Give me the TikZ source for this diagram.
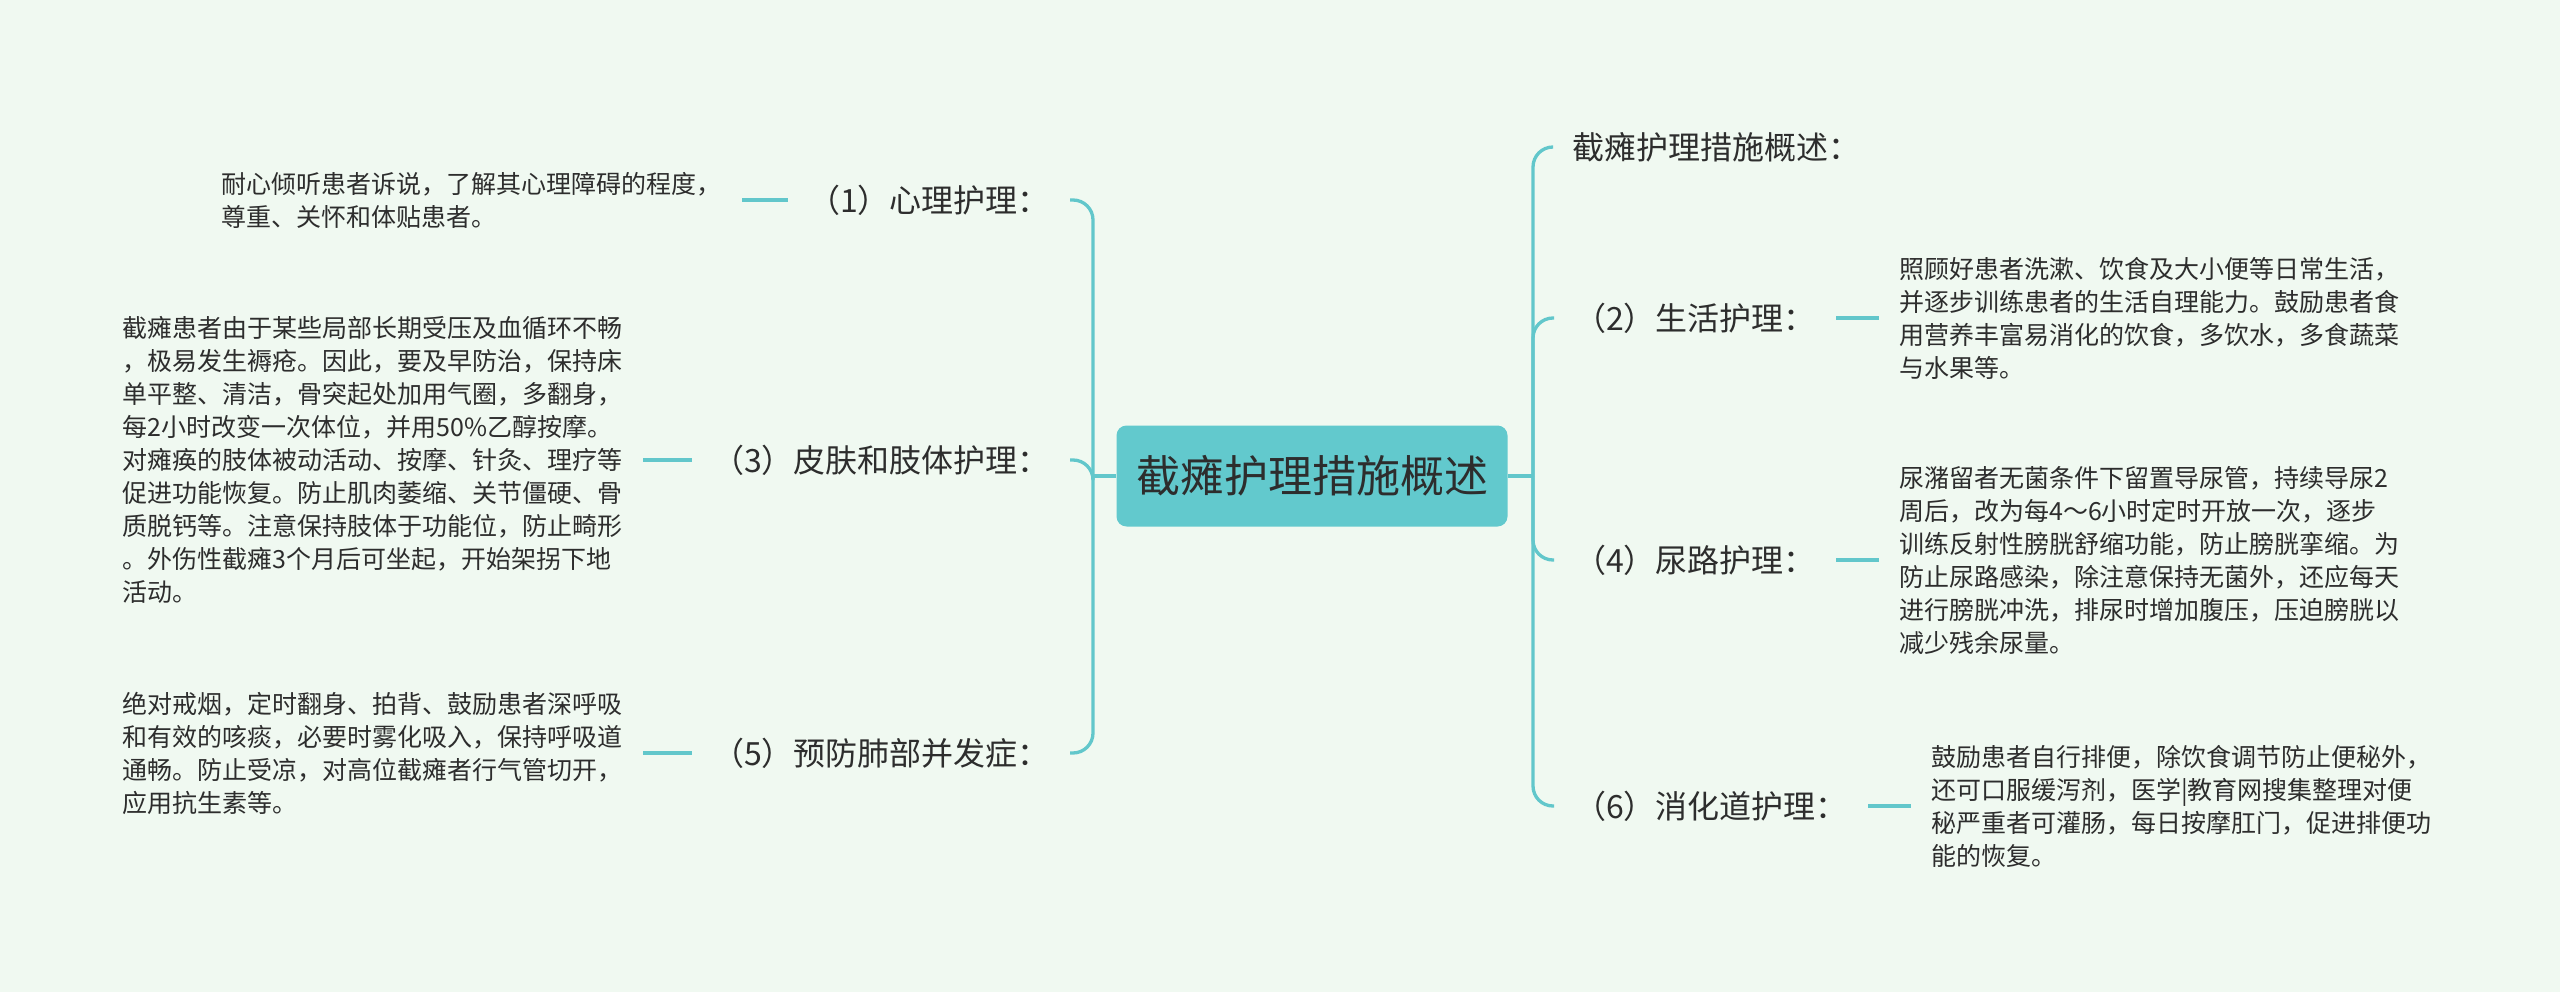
\documentclass[tikz,border=0pt]{standalone}
\usepackage{fontspec}
\setmainfont{Noto Sans CJK SC}
\usepackage{tikz}
\definecolor{mint}{RGB}{240,249,241}
\definecolor{linecol}{RGB}{98,199,203}
\definecolor{rootcol}{RGB}{98,201,205}
\definecolor{ink}{RGB}{45,45,45}

\begin{document}
\begin{tikzpicture}[x=1pt,y=-1pt,
  link/.style={draw=linecol,line width=3.3pt,rounded corners=20pt},
  root/.style={fill=rootcol,rounded corners=10pt,minimum width=391pt,minimum height=101pt,
    font=\fontsize{44}{52}\selectfont,text=ink},
  branch/.style={inner xsep=20pt,font=\fontsize{32}{40}\selectfont,text=ink},
  detail/.style={inner xsep=20pt,align=left,font=\fontsize{25}{33}\selectfont,text=ink}]
  \fill[mint] (0,0) rectangle (2560,992);

  \node[root] (root) at (1312,476) {截瘫护理措施概述};
  \coordinate (rs) at (1533,476);
  \coordinate (ls) at (1093,476);

  % right side
  \node[branch,anchor=west] (t0) at (1552,147) {截瘫护理措施概述：};
  \node[branch,anchor=west] (c2) at (1554,318) {（2）生活护理：};
  \node[branch,anchor=west] (c4) at (1554,560) {（4）尿路护理：};
  \node[branch,anchor=west] (c6) at (1554,806) {（6）消化道护理：};
  \node[detail,anchor=west] (d2) at (1879,318) {照顾好患者洗漱、饮食及大小便等日常生活，\\
    并逐步训练患者的生活自理能力。鼓励患者食\\
    用营养丰富易消化的饮食，多饮水，多食蔬菜\\
    与水果等。};
  \node[detail,anchor=west] (d4) at (1879,560) {尿潴留者无菌条件下留置导尿管，持续导尿2\\
    周后，改为每4～6小时定时开放一次，逐步\\
    训练反射性膀胱舒缩功能，防止膀胱挛缩。为\\
    防止尿路感染，除注意保持无菌外，还应每天\\
    进行膀胱冲洗，排尿时增加腹压，压迫膀胱以\\
    减少残余尿量。};
  \node[detail,anchor=west] (d6) at (1911,806) {鼓励患者自行排便，除饮食调节防止便秘外，\\
    还可口服缓泻剂，医学|教育网搜集整理对便\\
    秘严重者可灌肠，每日按摩肛门，促进排便功\\
    能的恢复。};

  % left side
  \node[branch,anchor=east] (c1) at (1070,200) {（1）心理护理：};
  \node[branch,anchor=east] (c3) at (1070,460) {（3）皮肤和肢体护理：};
  \node[branch,anchor=east] (c5) at (1070,753) {（5）预防肺部并发症：};
  \node[detail,anchor=east] (d1) at (742,200) {耐心倾听患者诉说，了解其心理障碍的程度，\\
    尊重、关怀和体贴患者。};
  \node[detail,anchor=east] (d3) at (643,460) {截瘫患者由于某些局部长期受压及血循环不畅\\
    ，极易发生褥疮。因此，要及早防治，保持床\\
    单平整、清洁，骨突起处加用气圈，多翻身，\\
    每2小时改变一次体位，并用50\%乙醇按摩。\\
    对瘫痪的肢体被动活动、按摩、针灸、理疗等\\
    促进功能恢复。防止肌肉萎缩、关节僵硬、骨\\
    质脱钙等。注意保持肢体于功能位，防止畸形\\
    。外伤性截瘫3个月后可坐起，开始架拐下地\\
    活动。};
  \node[detail,anchor=east] (d5) at (643,753) {绝对戒烟，定时翻身、拍背、鼓励患者深呼吸\\
    和有效的咳痰，必要时雾化吸入，保持呼吸道\\
    通畅。防止受凉，对高位截瘫者行气管切开，\\
    应用抗生素等。};

  \draw[link] (root.east) -- (rs);
  \draw[link] (rs) |- (t0.west);
  \draw[link] (rs) |- (c2.west);
  \draw[link] (rs) |- (c4.west);
  \draw[link] (rs) |- (c6.west);
  \draw[link] (c2.east) -- (d2.west);
  \draw[link] (c4.east) -- (d4.west);
  \draw[link] (c6.east) -- (d6.west);

  \draw[link] (root.west) -- (ls);
  \draw[link] (ls) |- (c1.east);
  \draw[link] (ls) |- (c3.east);
  \draw[link] (ls) |- (c5.east);
  \draw[link] (c1.west) -- (d1.east);
  \draw[link] (c3.west) -- (d3.east);
  \draw[link] (c5.west) -- (d5.east);
\end{tikzpicture}
\end{document}
